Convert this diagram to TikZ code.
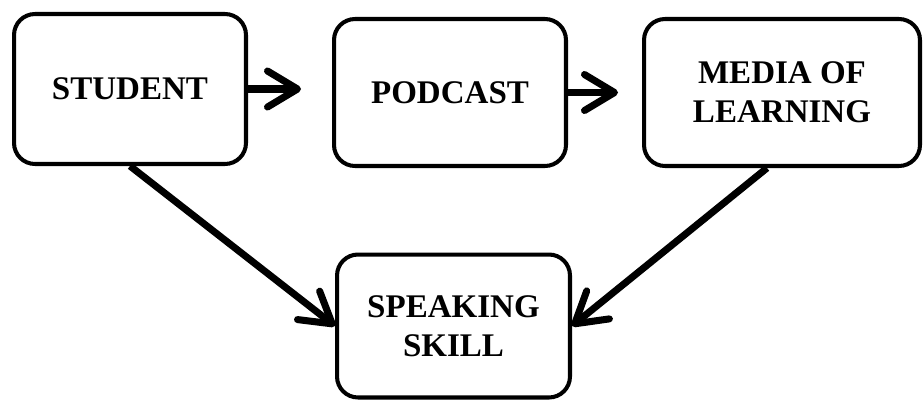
\documentclass[tikz,border=0pt]{standalone}
\usepackage{fontspec}
\setmainfont{Liberation Serif}
\usetikzlibrary{arrows.meta}

\tikzset{
    box/.style={draw,
    rectangle,
    rounded corners=0.42cm,
    line width=2.3pt,
    align=center,
    font=\fontsize{18.8}{22}\selectfont\bfseries},
    flow/.style={line width=4pt,
    -{Straight Barb[length=0.6cm,width=0.72cm,round]}}
}

\begin{document}
\begin{tikzpicture}[x=0.02cm,y=-0.02cm]
    \useasboundingbox (0,0) rectangle (923,400);

    % Top row
    \node [box,
    minimum width=4.64cm,
    minimum height=3.0cm] (student) at (130,89) {STUDENT};

    \node [box,
    minimum width=4.64cm,
    minimum height=2.94cm] (podcast) at (450,92.5) {PODCAST};

    \node [box,
    minimum width=5.52cm,
    minimum height=2.94cm] (media) at (782,92.5) {MEDIA OF\\LEARNING};

    % Bottom box
    \node [box,
    minimum width=4.66cm,
    minimum height=2.86cm] (skill) at (453.5,326) {SPEAKING\\SKILL};

    % Arrows
    \draw [flow, shorten >=0.62cm] (student.east) -- (student.east -| podcast.west);
    \draw [flow, shorten >=0.48cm] (podcast.east) -- (podcast.east -| media.west);
    \draw [flow] (student.south) -- (skill.west);
    \draw [flow] ([xshift=-0.3cm]media.south) -- (skill.east);
\end{tikzpicture}
\end{document}
